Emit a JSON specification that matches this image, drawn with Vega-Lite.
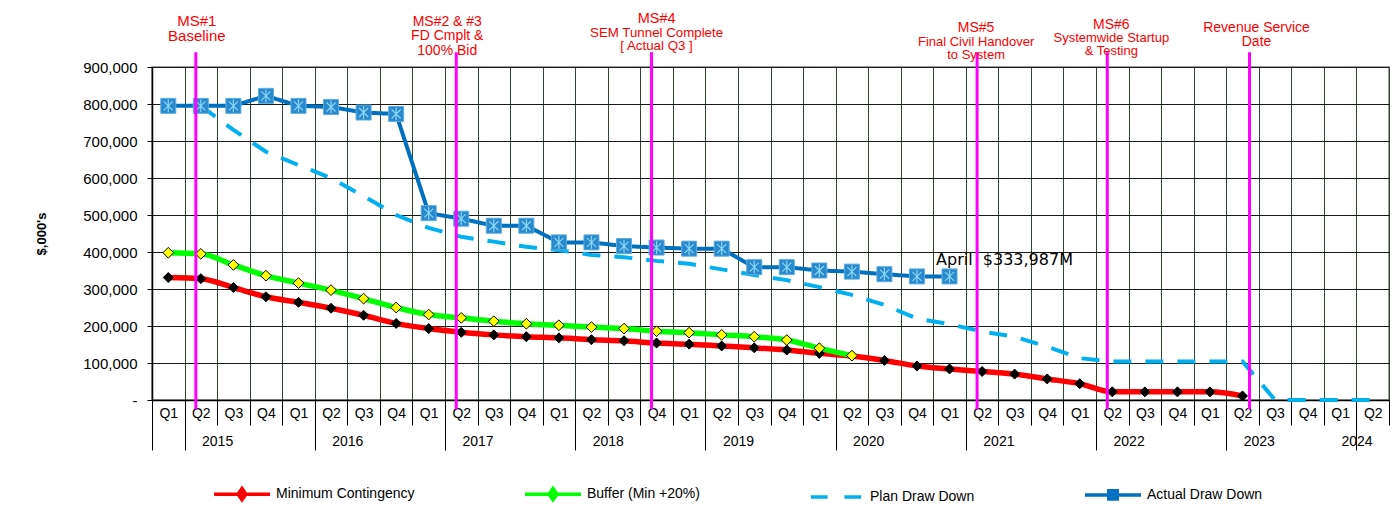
{
"$schema": "https://vega.github.io/schema/vega-lite/v6.json",
"width": 1237,
"height": 333,
"autosize": "none",
"padding": {"left": 152, "top": 67, "right": 7, "bottom": 122},
"background": "#ffffff",
"config": {"font": "Liberation Sans", "view": {"stroke": "#808080", "strokeWidth": 1.5}},
"datasets": {
"dd": [
{"q":"2015 Q1","s":"min","v":331000},{"q":"2015 Q2","s":"min","v":328000},{"q":"2015 Q3","s":"min","v":304000},{"q":"2015 Q4","s":"min","v":279000},
{"q":"2016 Q1","s":"min","v":264000},{"q":"2016 Q2","s":"min","v":248000},{"q":"2016 Q3","s":"min","v":229000},{"q":"2016 Q4","s":"min","v":207000},
{"q":"2017 Q1","s":"min","v":193000},{"q":"2017 Q2","s":"min","v":183000},{"q":"2017 Q3","s":"min","v":176000},{"q":"2017 Q4","s":"min","v":171000},
{"q":"2018 Q1","s":"min","v":168000},{"q":"2018 Q2","s":"min","v":163000},{"q":"2018 Q3","s":"min","v":160000},{"q":"2018 Q4","s":"min","v":154000},
{"q":"2019 Q1","s":"min","v":151000},{"q":"2019 Q2","s":"min","v":146000},{"q":"2019 Q3","s":"min","v":141000},{"q":"2019 Q4","s":"min","v":135000},
{"q":"2020 Q1","s":"min","v":126000},{"q":"2020 Q2","s":"min","v":119000},{"q":"2020 Q3","s":"min","v":107000},{"q":"2020 Q4","s":"min","v":92000},
{"q":"2021 Q1","s":"min","v":84000},{"q":"2021 Q2","s":"min","v":77000},{"q":"2021 Q3","s":"min","v":70000},{"q":"2021 Q4","s":"min","v":57000},
{"q":"2022 Q1","s":"min","v":44000},{"q":"2022 Q2","s":"min","v":22000},{"q":"2022 Q3","s":"min","v":22000},{"q":"2022 Q4","s":"min","v":22000},
{"q":"2023 Q1","s":"min","v":22000},{"q":"2023 Q2","s":"min","v":11000},
{"q":"2015 Q1","s":"buf","v":398000},{"q":"2015 Q2","s":"buf","v":395000},{"q":"2015 Q3","s":"buf","v":365000},{"q":"2015 Q4","s":"buf","v":336000},
{"q":"2016 Q1","s":"buf","v":316000},{"q":"2016 Q2","s":"buf","v":297000},{"q":"2016 Q3","s":"buf","v":274000},{"q":"2016 Q4","s":"buf","v":250000},
{"q":"2017 Q1","s":"buf","v":231000},{"q":"2017 Q2","s":"buf","v":222000},{"q":"2017 Q3","s":"buf","v":213000},{"q":"2017 Q4","s":"buf","v":206000},
{"q":"2018 Q1","s":"buf","v":202000},{"q":"2018 Q2","s":"buf","v":197000},{"q":"2018 Q3","s":"buf","v":193000},{"q":"2018 Q4","s":"buf","v":186000},
{"q":"2019 Q1","s":"buf","v":182000},{"q":"2019 Q2","s":"buf","v":176000},{"q":"2019 Q3","s":"buf","v":171000},{"q":"2019 Q4","s":"buf","v":162000},
{"q":"2020 Q1","s":"buf","v":140000},{"q":"2020 Q2","s":"buf","v":120000},
{"q":"2015 Q2","s":"plan","v":795000},{"q":"2015 Q3","s":"plan","v":730000},{"q":"2015 Q4","s":"plan","v":671000},
{"q":"2016 Q1","s":"plan","v":635000},{"q":"2016 Q2","s":"plan","v":600000},{"q":"2016 Q3","s":"plan","v":551000},{"q":"2016 Q4","s":"plan","v":500000},
{"q":"2017 Q1","s":"plan","v":465000},{"q":"2017 Q2","s":"plan","v":441000},{"q":"2017 Q3","s":"plan","v":428000},{"q":"2017 Q4","s":"plan","v":414000},
{"q":"2018 Q1","s":"plan","v":405000},{"q":"2018 Q2","s":"plan","v":392000},{"q":"2018 Q3","s":"plan","v":386000},{"q":"2018 Q4","s":"plan","v":376000},
{"q":"2019 Q1","s":"plan","v":368000},{"q":"2019 Q2","s":"plan","v":353000},{"q":"2019 Q3","s":"plan","v":338000},{"q":"2019 Q4","s":"plan","v":324000},
{"q":"2020 Q1","s":"plan","v":305000},{"q":"2020 Q2","s":"plan","v":284000},{"q":"2020 Q3","s":"plan","v":257000},{"q":"2020 Q4","s":"plan","v":220000},
{"q":"2021 Q1","s":"plan","v":205000},{"q":"2021 Q2","s":"plan","v":185000},{"q":"2021 Q3","s":"plan","v":171000},{"q":"2021 Q4","s":"plan","v":144000},
{"q":"2022 Q1","s":"plan","v":113000},{"q":"2022 Q2","s":"plan","v":104000},{"q":"2022 Q3","s":"plan","v":104000},{"q":"2022 Q4","s":"plan","v":104000},
{"q":"2023 Q1","s":"plan","v":104000},{"q":"2023 Q2","s":"plan","v":104000},{"q":"2023 Q3","s":"plan","v":0},{"q":"2023 Q4","s":"plan","v":0},
{"q":"2024 Q1","s":"plan","v":0},{"q":"2024 Q2","s":"plan","v":0},
{"q":"2015 Q1","s":"act","v":795000},{"q":"2015 Q2","s":"act","v":795000},{"q":"2015 Q3","s":"act","v":795000},{"q":"2015 Q4","s":"act","v":822000},
{"q":"2016 Q1","s":"act","v":795000},{"q":"2016 Q2","s":"act","v":792000},{"q":"2016 Q3","s":"act","v":777000},{"q":"2016 Q4","s":"act","v":773000},
{"q":"2017 Q1","s":"act","v":505000},{"q":"2017 Q2","s":"act","v":490000},{"q":"2017 Q3","s":"act","v":471000},{"q":"2017 Q4","s":"act","v":471000},
{"q":"2018 Q1","s":"act","v":426000},{"q":"2018 Q2","s":"act","v":426000},{"q":"2018 Q3","s":"act","v":416000},{"q":"2018 Q4","s":"act","v":412000},
{"q":"2019 Q1","s":"act","v":409000},{"q":"2019 Q2","s":"act","v":409000},{"q":"2019 Q3","s":"act","v":359000},{"q":"2019 Q4","s":"act","v":359000},
{"q":"2020 Q1","s":"act","v":350000},{"q":"2020 Q2","s":"act","v":347000},{"q":"2020 Q3","s":"act","v":340000},{"q":"2020 Q4","s":"act","v":334000},
{"q":"2021 Q1","s":"act","v":333987}
],
"ms": [
{"q":"2015 Q2","k":"ms1","t":"MS#1|Baseline"},
{"q":"2017 Q2","k":"ms2","t":"MS#2 & #3|FD Cmplt &|100% Bid"},
{"q":"2018 Q4","k":"ms4","t":"MS#4","b":"SEM Tunnel Complete|[ Actual Q3 ]"},
{"q":"2021 Q2","k":"ms5","t":"MS#5","b":"Final Civil Handover|to System"},
{"q":"2022 Q2","k":"ms6","t":"MS#6","b":"Systemwide Startup|& Testing"},
{"q":"2023 Q2","k":"rsd","t":"Revenue Service|Date"}
],
"note": [{"q":"2021 Q1","v":333987,"t":"April\u00a0 $333,987M"}]
},
"resolve": {"axis": {"x": "independent"}},
"layer": [
{
"data": {"name": "dd"},
"transform": [{"filter": "datum.s == 'min' || datum.s == 'buf'"}],
"mark": {"type": "line", "interpolate": "monotone", "strokeWidth": 5.5},
"encoding": {
"x": {"field": "q", "type": "ordinal", "bandPosition": 0.5,
"scale": {"type": "band", "paddingInner": 0, "paddingOuter": 0, "domain": ["2015 Q1","2015 Q2","2015 Q3","2015 Q4","2016 Q1","2016 Q2","2016 Q3","2016 Q4","2017 Q1","2017 Q2","2017 Q3","2017 Q4","2018 Q1","2018 Q2","2018 Q3","2018 Q4","2019 Q1","2019 Q2","2019 Q3","2019 Q4","2020 Q1","2020 Q2","2020 Q3","2020 Q4","2021 Q1","2021 Q2","2021 Q3","2021 Q4","2022 Q1","2022 Q2","2022 Q3","2022 Q4","2023 Q1","2023 Q2","2023 Q3","2023 Q4","2024 Q1","2024 Q2"]},
"axis": {"title": null, "orient": "bottom", "labelExpr": "slice(datum.label, 5)", "labelAngle": 0, "labelFontSize": 14, "labelColor": "#000000", "labelPadding": -19, "labelOverlap": false, "labelBound": false, "tickBand": "extent", "ticks": true, "tickSize": 25, "tickColor": "#000000", "tickWidth": 1, "domain": true, "domainColor": "#000000", "domainWidth": 1.5, "grid": true, "gridColor": "#2e4a2e", "gridWidth": 1}},
"y": {"field": "v", "type": "quantitative", "scale": {"domain": [0, 900000], "nice": false},
"axis": {"title": "$,000's", "titleFontSize": 13, "titleFontWeight": "bold", "titleColor": "#000000", "titlePadding": 34, "values": [0,100000,200000,300000,400000,500000,600000,700000,800000,900000], "tickCount": 10, "labelOverlap": false, "labelExpr": "datum.value == 0 ? '-' : format(datum.value, ',')", "labelFontSize": 15, "labelColor": "#000000", "labelPadding": 10, "tickSize": 5, "tickColor": "#000000", "domainColor": "#000000", "domainWidth": 1.5, "grid": true, "gridColor": "#1a1a1a", "gridWidth": 1}},
"color": {"field": "s", "type": "nominal",
"scale": {"domain": ["min","buf","plan","act"], "range": ["#ff0000","#00ff00","#00b0f0","#0070c0"]},
"legend": {"title": null, "orient": "none", "legendX": 60, "legendY": 397, "direction": "horizontal", "columns": 4, "columnPadding": 103, "padding": 0, "symbolSize": 3136, "symbolStrokeWidth": 4, "labelFontSize": 14, "labelColor": "#000000", "labelOffset": 4, "labelLimit": 400,
"labelExpr": "datum.label == 'min' ? 'Minimum Contingency' : datum.label == 'buf' ? 'Buffer (Min +20%)' : datum.label == 'plan' ? 'Plan Draw Down' : 'Actual Draw Down'",
"encode": {"symbols": {"update": {
"shape": {"signal": "datum.value == 'plan' ? 'M-0.9,0H-0.3M0.3,0H0.9' : datum.value == 'act' ? 'M-1,0H1M-0.15,-0.15H0.15V0.15H-0.15Z' : 'M-1,0H1M0,-0.2L0.14,0L0,0.2L-0.14,0Z'"},
"fill": {"signal": "datum.value == 'min' ? '#000000' : datum.value == 'buf' ? '#ffff00' : datum.value == 'act' ? '#2a88cc' : 'transparent'"},
"strokeWidth": {"value": 3.5},
"opacity": {"value": 1}}}}}}
}
},
{
"data": {"name": "dd"},
"transform": [{"filter": "datum.s == 'plan' || datum.s == 'act'"}],
"mark": {"type": "line", "strokeWidth": 4},
"encoding": {
"x": {"field": "q", "type": "ordinal", "bandPosition": 0.5, "axis": null},
"y": {"field": "v", "type": "quantitative"},
"color": {"field": "s", "type": "nominal"},
"strokeDash": {"field": "s", "type": "nominal", "scale": {"domain": ["plan","act"], "range": [[18,14],[1,0]]}, "legend": null}
}
},
{
"data": {"name": "dd"},
"transform": [{"filter": "datum.s == 'min'"}],
"mark": {"type": "point", "shape": "diamond", "filled": true, "fill": "#000000", "stroke": "#000000", "strokeWidth": 1, "size": 100, "opacity": 1},
"encoding": {
"x": {"field": "q", "type": "ordinal", "bandPosition": 0.5, "axis": null},
"y": {"field": "v", "type": "quantitative"}
}
},
{
"data": {"name": "dd"},
"transform": [{"filter": "datum.s == 'buf'"}],
"mark": {"type": "point", "shape": "diamond", "filled": true, "fill": "#ffff00", "stroke": "#000000", "strokeWidth": 1, "size": 115, "opacity": 1},
"encoding": {
"x": {"field": "q", "type": "ordinal", "bandPosition": 0.5, "axis": null},
"y": {"field": "v", "type": "quantitative"}
}
},
{
"data": {"name": "dd"},
"transform": [{"filter": "datum.s == 'act'"}],
"mark": {"type": "point", "shape": "square", "filled": true, "fill": "#2a88cc", "stroke": "#5aaee0", "strokeWidth": 1, "size": 225, "opacity": 1},
"encoding": {
"x": {"field": "q", "type": "ordinal", "bandPosition": 0.5, "axis": null},
"y": {"field": "v", "type": "quantitative"}
}
},
{
"data": {"name": "dd"},
"transform": [{"filter": "datum.s == 'act'"}],
"mark": {"type": "point", "shape": "M-0.6,-0.6L0.6,0.6M-0.6,0.6L0.6,-0.6M0,-0.85V0.85", "filled": false, "stroke": "#8ad8f5", "strokeWidth": 1.2, "size": 225, "opacity": 1},
"encoding": {
"x": {"field": "q", "type": "ordinal", "bandPosition": 0.5, "axis": null},
"y": {"field": "v", "type": "quantitative"}
}
},
{
"data": {"name": "note"},
"mark": {"type": "text", "align": "left", "baseline": "alphabetic", "dx": -13.5, "dy": -11.5, "fontSize": 16, "font": "DejaVu Sans", "color": "#000000"},
"encoding": {
"x": {"field": "q", "type": "ordinal", "bandPosition": 0.5, "axis": null},
"y": {"field": "v", "type": "quantitative"},
"text": {"field": "t"}
}
},
{
"data": {"name": "ms"},
"transform": [{"filter": "datum.k != 'rsd'"}],
"mark": {"type": "rule", "color": "#ff00ff", "strokeWidth": 3, "xOffset": -5},
"encoding": {
"x": {"field": "q", "type": "ordinal", "bandPosition": 0.5,
"axis": {"title": null, "orient": "bottom", "labelExpr": "(slice(datum.label, 5) == 'Q2' && slice(datum.label, 0, 4) != '2024') || datum.label == '2024 Q1' ? slice(datum.label, 0, 4) : ''", "labelAngle": 0, "labelOffset": 16.3, "labelFontSize": 14, "labelColor": "#000000", "labelPadding": -16, "labelOverlap": false, "labelBound": false, "tickBand": "extent", "tickSize": 50, "tickColor": "#000000", "tickWidth": 1,
"tickOpacity": {"condition": {"test": "datum.extra || (isString(datum.value) && slice(datum.value, 5) == 'Q1')", "value": 1}, "value": 0},
"domain": false, "grid": false}},
"y": {"datum": 940000, "type": "quantitative"},
"y2": {"datum": -25000}
}
},
{
"data": {"name": "ms"},
"transform": [{"filter": "datum.k == 'rsd'"}],
"mark": {"type": "rule", "color": "#ff00ff", "strokeWidth": 3, "xOffset": 7},
"encoding": {
"x": {"field": "q", "type": "ordinal", "bandPosition": 0.5, "axis": null},
"y": {"datum": 940000, "type": "quantitative"},
"y2": {"datum": -25000}
}
},
{
"data": {"name": "ms"},
"transform": [{"filter": "datum.k == 'ms1'"}],
"mark": {"type": "text", "align": "center", "baseline": "alphabetic", "dx": -4, "dy": -41, "fontSize": 15, "lineBreak": "|", "lineHeight": 15.2, "color": "#ff0000"},
"encoding": {"x": {"field": "q", "type": "ordinal", "bandPosition": 0.5, "axis": null}, "y": {"datum": 900000, "type": "quantitative"}, "text": {"field": "t"}}
},
{
"data": {"name": "ms"},
"transform": [{"filter": "datum.k == 'ms2'"}],
"mark": {"type": "text", "align": "center", "baseline": "alphabetic", "dx": -14, "dy": -41.2, "fontSize": 14, "lineBreak": "|", "lineHeight": 14.6, "color": "#ff0000"},
"encoding": {"x": {"field": "q", "type": "ordinal", "bandPosition": 0.5, "axis": null}, "y": {"datum": 900000, "type": "quantitative"}, "text": {"field": "t"}}
},
{
"data": {"name": "ms"},
"transform": [{"filter": "datum.k == 'ms4'"}],
"mark": {"type": "text", "align": "center", "baseline": "alphabetic", "dx": 0, "dy": -43.8, "fontSize": 14.5, "color": "#ff0000"},
"encoding": {"x": {"field": "q", "type": "ordinal", "bandPosition": 0.5, "axis": null}, "y": {"datum": 900000, "type": "quantitative"}, "text": {"field": "t"}}
},
{
"data": {"name": "ms"},
"transform": [{"filter": "datum.k == 'ms4'"}],
"mark": {"type": "text", "align": "center", "baseline": "alphabetic", "dx": 0, "dy": -30.4, "fontSize": 13.3, "lineBreak": "|", "lineHeight": 13.5, "color": "#ff0000"},
"encoding": {"x": {"field": "q", "type": "ordinal", "bandPosition": 0.5, "axis": null}, "y": {"datum": 900000, "type": "quantitative"}, "text": {"field": "b"}}
},
{
"data": {"name": "ms"},
"transform": [{"filter": "datum.k == 'ms5'"}],
"mark": {"type": "text", "align": "center", "baseline": "alphabetic", "dx": -6, "dy": -34.8, "fontSize": 14, "color": "#ff0000"},
"encoding": {"x": {"field": "q", "type": "ordinal", "bandPosition": 0.5, "axis": null}, "y": {"datum": 900000, "type": "quantitative"}, "text": {"field": "t"}}
},
{
"data": {"name": "ms"},
"transform": [{"filter": "datum.k == 'ms5'"}],
"mark": {"type": "text", "align": "center", "baseline": "alphabetic", "dx": -6, "dy": -21.5, "fontSize": 13, "lineBreak": "|", "lineHeight": 13, "color": "#ff0000"},
"encoding": {"x": {"field": "q", "type": "ordinal", "bandPosition": 0.5, "axis": null}, "y": {"datum": 900000, "type": "quantitative"}, "text": {"field": "b"}}
},
{
"data": {"name": "ms"},
"transform": [{"filter": "datum.k == 'ms6'"}],
"mark": {"type": "text", "align": "center", "baseline": "alphabetic", "dx": -1, "dy": -38.3, "fontSize": 14, "color": "#ff0000"},
"encoding": {"x": {"field": "q", "type": "ordinal", "bandPosition": 0.5, "axis": null}, "y": {"datum": 900000, "type": "quantitative"}, "text": {"field": "t"}}
},
{
"data": {"name": "ms"},
"transform": [{"filter": "datum.k == 'ms6'"}],
"mark": {"type": "text", "align": "center", "baseline": "alphabetic", "dx": -1, "dy": -25, "fontSize": 13, "lineBreak": "|", "lineHeight": 13.2, "color": "#ff0000"},
"encoding": {"x": {"field": "q", "type": "ordinal", "bandPosition": 0.5, "axis": null}, "y": {"datum": 900000, "type": "quantitative"}, "text": {"field": "b"}}
},
{
"data": {"name": "ms"},
"transform": [{"filter": "datum.k == 'rsd'"}],
"mark": {"type": "text", "align": "center", "baseline": "alphabetic", "dx": 14, "dy": -35.3, "fontSize": 14, "lineBreak": "|", "lineHeight": 14.1, "color": "#ff0000"},
"encoding": {"x": {"field": "q", "type": "ordinal", "bandPosition": 0.5, "axis": null}, "y": {"datum": 900000, "type": "quantitative"}, "text": {"field": "t"}}
}
]
}
